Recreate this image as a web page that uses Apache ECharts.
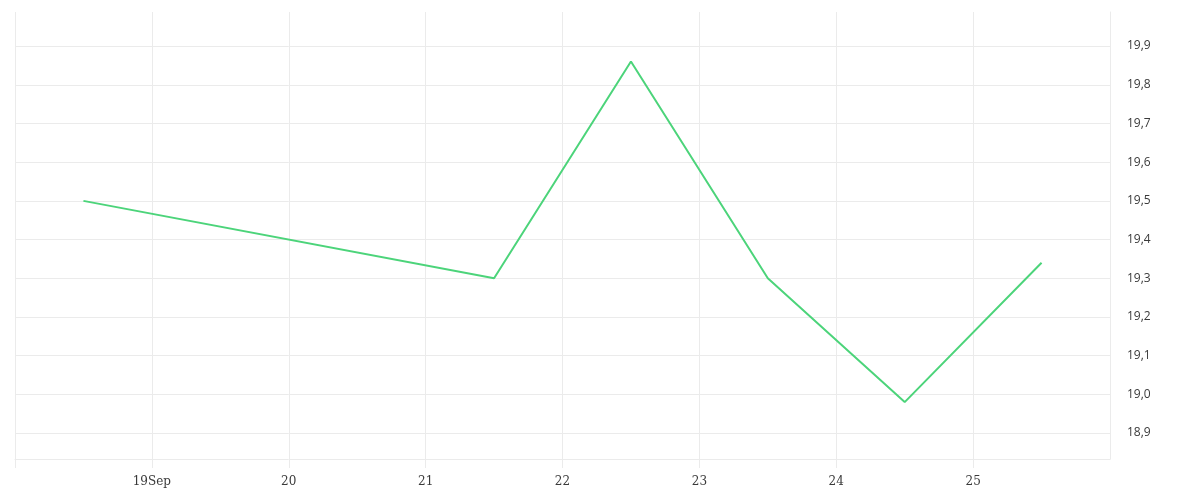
<!DOCTYPE html>
<html>
<head>
<meta charset="utf-8">
<title>Chart</title>
<script src="https://cdn.jsdelivr.net/npm/echarts@6/dist/echarts.min.js"></script>
<style>
    html, body { margin: 0; padding: 0; background: #fff; }
    #chart { width: 1200px; height: 500px; }
</style>
</head>
<body>
<div id="chart"></div>
<script>
// data (one point per day, at noon)
var dates = ['2023-09-18T12:00:00Z', '2023-09-21T12:00:00Z', '2023-09-22T12:00:00Z',
    '2023-09-23T12:00:00Z', '2023-09-24T12:00:00Z', '2023-09-25T12:00:00Z'];
var values = [19.5, 19.3, 19.86, 19.3, 18.98, 19.34];

// x tick labels
var tickDays = ['2023-09-19', '2023-09-20', '2023-09-21', '2023-09-22', '2023-09-23', '2023-09-24', '2023-09-25'];
var tickLabels = ['19Sep', '20', '21', '22', '23', '24', '25'];

var DAY = 24 * 3600 * 1000;

document.addEventListener("DOMContentLoaded", function () {
    var chartDom = document.getElementById('chart');
    var myChart = echarts.init(chartDom);

    var points = dates.map(function (d, i) {
        return [new Date(d).getTime(), values[i]];
    });

    var option = {
        animation: false,
        useUTC: true,
        grid: {
            left: 15,
            right: 90,
            top: 12,
            bottom: 41
        },
        xAxis: {
            type: 'time',
            min: new Date('2023-09-18T00:00:00Z').getTime(),
            max: new Date('2023-09-26T00:00:00Z').getTime(),
            minInterval: DAY,
            maxInterval: DAY,
            axisLine: { show: true, lineStyle: { color: '#ebebeb', width: 1 } },
            axisTick: { show: true, length: 9, lineStyle: { color: '#ebebeb' } },
            splitLine: { show: true, lineStyle: { color: '#ebebeb', width: 1 } },
            axisLabel: {
                margin: 17,
                color: '#3a3a3a',
                fontFamily: 'DejaVu Serif',
                fontSize: 12,
                showMinLabel: false,
                showMaxLabel: false,
                formatter: function (value) {
                    var key = new Date(value).toISOString().slice(0, 10);
                    var idx = tickDays.indexOf(key);
                    return idx >= 0 ? tickLabels[idx] : '';
                }
            }
        },
        yAxis: {
            type: 'value',
            position: 'right',
            min: 18.833,
            max: 19.988,
            splitNumber: 12,
            minInterval: 0.1,
            maxInterval: 0.1,
            axisLine: { show: true, lineStyle: { color: '#ebebeb', width: 1 } },
            axisTick: { show: false },
            splitLine: {
                show: true,
                showMinLine: false,
                showMaxLine: false,
                lineStyle: { color: '#ebebeb', width: 1 }
            },
            axisLabel: {
                margin: 17,
                color: '#3a3a3a',
                fontFamily: 'Open Sans',
                fontSize: 12,
                padding: [6, 0, 0, 0],
                showMinLabel: false,
                showMaxLabel: false,
                formatter: function (v) {
                    return v.toFixed(1).replace('.', ',');
                }
            }
        },
        series: [
            {
                type: 'line',
                data: points,
                symbol: 'none',
                lineStyle: { color: '#4cd47a', width: 2 },
                itemStyle: { color: '#4cd47a' }
            }
        ]
    };

    myChart.setOption(option);
});
</script>
</body>
</html>
